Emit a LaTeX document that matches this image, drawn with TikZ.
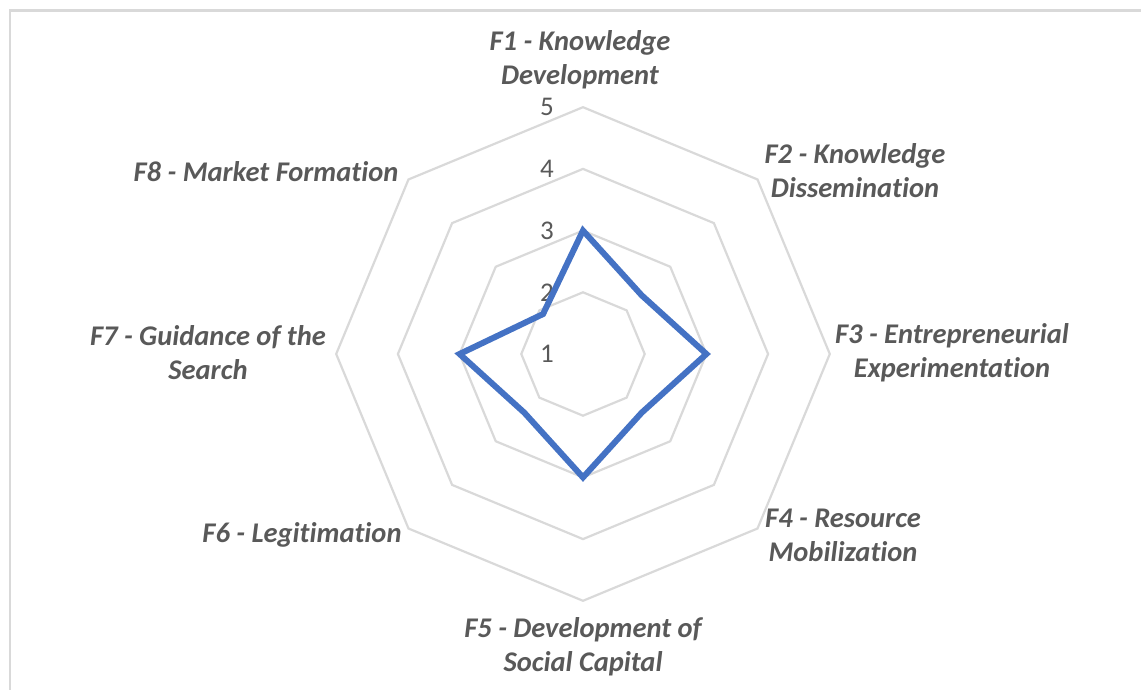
\documentclass[tikz,border=0pt]{standalone}
\usepackage{fontspec}
\setmainfont{Carlito}[Ligatures=NoCommon]
\usepackage{xcolor}
\definecolor{Chart Blue}{HTML}{4472C4}
\definecolor{Grid Grey}{HTML}{D9D9D9}
\definecolor{Label Grey}{HTML}{595959}
\colorlet{cBlue}{Chart Blue}
\colorlet{cGrid}{Grid Grey}
\colorlet{cText}{Label Grey}
\usepackage{tikz}
\usetikzlibrary{positioning}
\tikzset{
	x = 1pt,
	y = 1pt,
	ring/.style={
		draw=cGrid,
		line width=2.2pt,
		line join=miter
	},
	series/.style={
		draw=cBlue,
		line width=6pt,
		line join=miter
	},
	factor/.style={
		font=\fontsize{28.5}{34}\selectfont\bfseries\itshape,
		text=cText,
		align=center,
		inner sep=0pt
	},
	tick label/.style={
		font=\fontsize{27}{30}\selectfont,
		text=cText,
		anchor=east,
		inner sep=0pt
	},
	frame/.style={
		draw=cGrid,
		line width=2.5pt
	}
}

\begin{document}
\begin{tikzpicture}
		\useasboundingbox (-583,-336) rectangle (558,354);
		\draw[frame] (-573,-340) -- (-573,343.5) -- (562,343.5);

		% rings at 2, 3, 4, 5
		\foreach \r in {61.7, 123.4, 185.1, 246.8}
			\draw[ring] (90:\r) -- (45:\r) -- (0:\r) -- (-45:\r) -- (-90:\r)
				-- (-135:\r) -- (180:\r) -- (135:\r) -- cycle;

		\node[tick label] (t1) at (-29,0) {1};
		\node[tick label] (t2) at (-29,61.7) {2};
		\node[tick label] (t3) at (-29,123.4) {3};
		\node[tick label] (t4) at (-29,185.1) {4};
		\node[tick label] (t5) at (-29,246.8) {5};

		\coordinate (d1) at (90:123.4);
		\coordinate (d2) at (45:83);
		\coordinate (d3) at (0:123.4);
		\coordinate (d4) at (-45:83);
		\coordinate (d5) at (-90:123.4);
		\coordinate (d6) at (-135:83);
		\coordinate (d7) at (180:123.4);
		\coordinate (d8) at (135:56.5);

		\draw[series] (d1) -- (d2) -- (d3) -- (d4) -- (d5) -- (d6) -- (d7) -- (d8) -- cycle;

		\node[factor] (f1) at (-3,294) {F1 - Knowledge\\Development};
		\node[factor] (f2) at (272,183) {F2 - Knowledge\\Dissemination};
		\node[factor] (f3) at (369,1) {F3 - Entrepreneurial\\Experimentation};
		\node[factor] (f4) at (260,-181) {F4 - Resource\\Mobilization};
		\node[factor] (f5) at (0,-293) {F5 - Development of\\Social Capital};
		\node[factor] (f6) at (-281,-181) {F6 - Legitimation};
		\node[factor] (f7) at (-375,1) {F7 - Guidance of the\\Search};
		\node[factor] (f8) at (-317,182) {F8 - Market Formation};
	\end{tikzpicture}
\end{document}
